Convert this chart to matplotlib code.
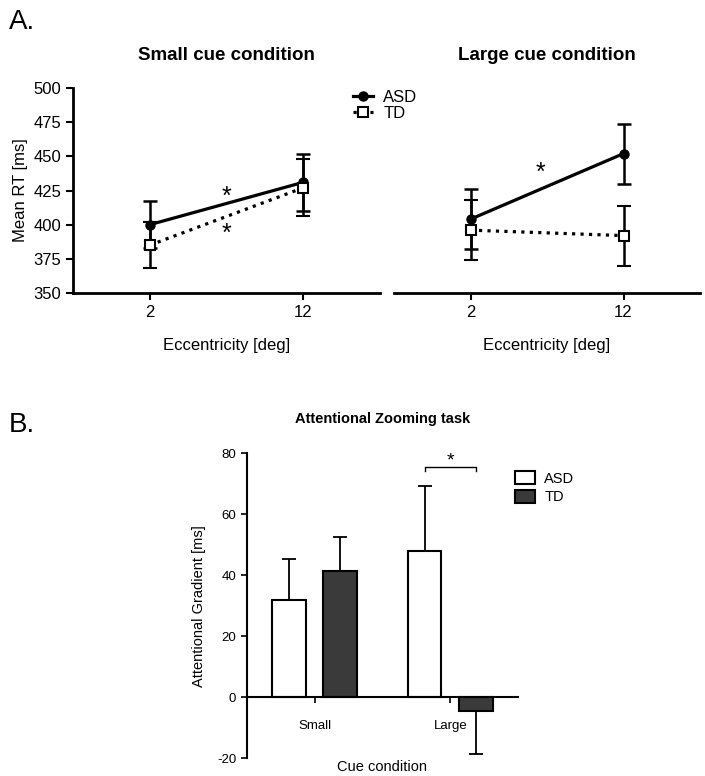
import numpy as np
import matplotlib.pyplot as plt
from matplotlib.lines import Line2D
from matplotlib.patches import Patch

plt.rcParams['font.family'] = ['Liberation Sans', 'DejaVu Sans']
plt.rcParams['axes.unicode_minus'] = False

# Panel A data
ecc = [2, 12]
small_asd = [400, 431]
small_asd_err = [17, 21]
small_td = [385, 427]
small_td_err = [17, 21]
large_asd = [404, 452]
large_asd_err = [22, 22]
large_td = [396, 392]
large_td_err = [22, 22]

# Panel B data
cue = ['Small', 'Large']
grad_asd = [31.8, 48.0]
grad_asd_err = [13.5, 21.3]
grad_td = [41.4, -4.4]
grad_td_err = [11.2, 14.2]

fig = plt.figure(figsize=(7.05, 7.76), dpi=100)

axL = fig.add_axes([0.1035, 0.6224, 0.4355, 0.2642])
axR = fig.add_axes([0.5589, 0.6224, 0.434, 0.2642])

for ax, asd, asd_e, td, td_e in [(axL, small_asd, small_asd_err, small_td, small_td_err),
                                 (axR, large_asd, large_asd_err, large_td, large_td_err)]:
    ax.errorbar(ecc, td, yerr=td_e, color='black', lw=2.3, ls=':', marker='s', ms=7,
                mfc='white', mec='black', mew=1.5, capsize=5, elinewidth=1.8, capthick=1.8, zorder=3)
    ax.errorbar(ecc, asd, yerr=asd_e, color='black', lw=2.3, ls='-', marker='o', ms=6.5,
                capsize=5, elinewidth=1.8, capthick=1.8, zorder=2)
    ax.set_xlim(-3, 17)
    ax.set_ylim(350, 500)
    ax.set_xticks(ecc)
    ax.set_xticklabels(['2', '12'])
    ax.spines['top'].set_visible(False)
    ax.spines['right'].set_visible(False)
    ax.spines['bottom'].set_linewidth(2)
    ax.spines['left'].set_linewidth(2)
    ax.tick_params(width=1.5, length=5, labelsize=12)
    ax.set_xlabel('Eccentricity [deg]', fontsize=12, labelpad=13)

axL.set_yticks([350, 375, 400, 425, 450, 475, 500])
axL.set_ylabel('Mean RT [ms]', fontsize=12, labelpad=4)
axL.set_title('Small cue condition', fontsize=13.5, fontweight='bold', pad=20)
axL.text(7, 420, '*', fontsize=18, ha='center', va='center')
axL.text(7, 393, '*', fontsize=18, ha='center', va='center')

axR.spines['left'].set_visible(False)
axR.tick_params(axis='y', left=False, labelleft=False)
axR.set_title('Large cue condition', fontsize=13.5, fontweight='bold', pad=20)
axR.text(6.6, 438, '*', fontsize=18, ha='center', va='center')

handles = [Line2D([], [], color='black', lw=2.3, marker='o', ms=6.5),
           Line2D([], [], color='black', lw=2.3, ls=':', marker='s', ms=7, mfc='white', mew=1.5)]
fig.legend(handles, ['ASD', 'TD'], loc='upper left', bbox_to_anchor=(0.48, 0.903),
           frameon=False, fontsize=12, handlelength=1.2, handletextpad=0.6, labelspacing=0.05)

fig.text(0.012, 0.972, 'A.', fontsize=20, va='center')
fig.text(0.012, 0.452, 'B.', fontsize=20, va='center')

# Panel B
axB = fig.add_axes([0.35, 0.0228, 0.385, 0.393])
x = np.arange(len(cue))
w = 0.25
off = 0.19
axB.bar(x - off, grad_asd, w, color='white', edgecolor='black', lw=1.5, zorder=2)
axB.bar(x + off, grad_td, w, color='#3a3a3a', edgecolor='black', lw=1.5, zorder=2)
for xi, v, e in zip(x - off, grad_asd, grad_asd_err):
    axB.errorbar(xi, v, yerr=[[0], [e]] if v >= 0 else [[e], [0]], color='black',
                 capsize=5, elinewidth=1.3, capthick=1.3, zorder=1)
for xi, v, e in zip(x + off, grad_td, grad_td_err):
    axB.errorbar(xi, v, yerr=[[0], [e]] if v >= 0 else [[e], [0]], color='black',
                 capsize=5, elinewidth=1.3, capthick=1.3, zorder=1)
axB.set_xlim(-0.5, 1.5)
axB.set_ylim(-20, 80)
axB.set_yticks([-20, 0, 20, 40, 60, 80])
axB.set_xticks(x)
axB.set_xticklabels(cue)
axB.spines['top'].set_visible(False)
axB.spines['right'].set_visible(False)
axB.spines['bottom'].set_position(('data', 0))
axB.spines['bottom'].set_linewidth(1.5)
axB.spines['left'].set_linewidth(1.5)
axB.tick_params(width=1.2, length=4, labelsize=9.5, colors='black')
axB.tick_params(axis='x', pad=12)
axB.set_ylabel('Attentional Gradient [ms]', fontsize=10.5, labelpad=8)
axB.set_title('Attentional Zooming task', fontsize=10.5, fontweight='bold', pad=22)
axB.text(0.5, -0.005, 'Cue condition', transform=axB.transAxes, ha='center', va='top', fontsize=10.5)

# significance bracket
bx0, bx1, by = 1 - off, 1 + off, 75.5
axB.plot([bx0, bx0, bx1, bx1], [by - 1.4, by, by, by - 1.4], color='black', lw=1.0, clip_on=False)
axB.text(1, 77.5, '*', fontsize=14, ha='center', va='center')

bh = [Patch(facecolor='white', edgecolor='black', lw=1.5),
      Patch(facecolor='#3a3a3a', edgecolor='black', lw=1.5)]
axB.legend(bh, ['ASD', 'TD'], loc='upper left', bbox_to_anchor=(0.94, 0.985), frameon=False,
           fontsize=10.5, handlelength=1.4, handleheight=1.0, handletextpad=0.6, labelspacing=0.3)

fig.savefig('out.png', dpi=100)
